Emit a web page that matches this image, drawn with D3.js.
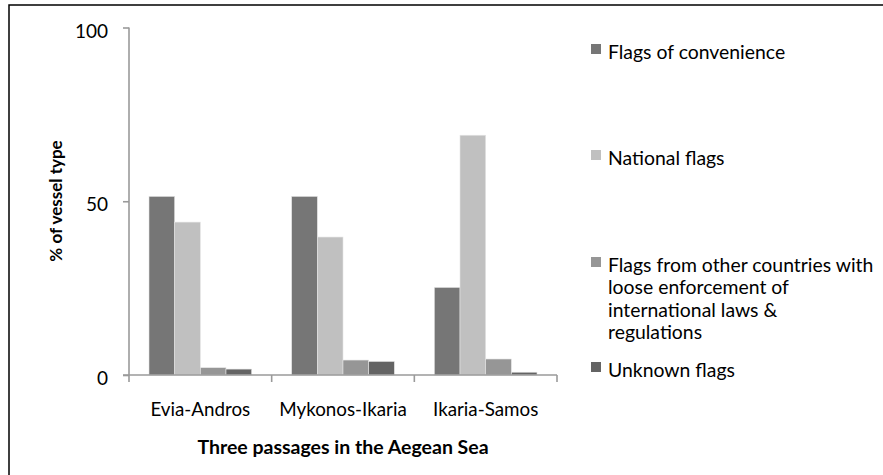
<!DOCTYPE html>
<html>
<head>
<meta charset="utf-8">
<script src="https://cdn.jsdelivr.net/npm/d3@7"></script>
<style>
  body { margin: 0; background: #fff; }
  svg text { font-family: Lato, "Open Sans", sans-serif; fill: #000; }
</style>
</head>
<body>
<div id="chart"></div>
<script>
// passages on the x axis
var passages = ["Evia-Andros", "Mykonos-Ikaria", "Ikaria-Samos"];
// % of vessel type, one array per flag group
var flagsOfConvenience = [51.4, 51.4, 25.2];
var nationalFlags = [44.0, 39.7, 69.0];
var looseEnforcement = [2.1, 4.3, 4.6];
var unknownFlags = [1.7, 3.9, 0.8];
var yTicks = [0, 50, 100];

var seriesNames = ["Flags of convenience", "National flags",
  "Flags from other countries with loose enforcement of international laws & regulations",
  "Unknown flags"];
var seriesColors = ["#767676", "#c0c0c0", "#969696", "#646464"];
var seriesValues = [flagsOfConvenience, nationalFlags, looseEnforcement, unknownFlags];
// legend text broken into lines like the original
var legendLines = [["Flags of convenience"], ["National flags"],
  ["Flags from other countries with", "loose enforcement of", "international laws &", "regulations"],
  ["Unknown flags"]];
var legendY = [51, 157, 264, 369];

const widthSvg = 883;
const heightSvg = 475;

const svg = d3.create("svg")
  .attr("width", widthSvg)
  .attr("height", heightSvg);
d3.select("#chart").append(() => svg.node());

// outer frame (right and bottom run past the picture)
svg.append("rect")
  .attr("x", 9).attr("y", 5)
  .attr("width", 890).attr("height", 490)
  .attr("fill", "none")
  .attr("stroke", "#000")
  .attr("stroke-width", 1.5);

const plotLeft = 129, plotRight = 557, plotTop = 27.5, plotBottom = 375;

var x = d3.scaleBand().domain(passages).range([plotLeft, plotRight]);
var xInner = d3.scaleBand().domain(d3.range(seriesNames.length))
  .range([20, x.bandwidth() - 20]);
var y = d3.scaleLinear().domain([0, 100]).range([plotBottom, plotTop]);

var rows = [];
passages.forEach(function(p, i) {
  seriesValues.forEach(function(vals, s) {
    rows.push({passage: p, series: s, value: vals[i]});
  });
});

svg.selectAll(".bar")
  .data(rows)
  .enter().append("rect")
  .attr("class", "bar")
  .attr("x", function(d) { return x(d.passage) + xInner(d.series); })
  .attr("y", function(d) { return y(d.value); })
  .attr("width", xInner.bandwidth())
  .attr("height", function(d) { return plotBottom - y(d.value); })
  .attr("fill", function(d) { return seriesColors[d.series]; })
  .attr("stroke", "#e4e4e4")
  .attr("stroke-width", 0.6);

// y axis
var yAxis = svg.append("g")
  .attr("transform", "translate(" + plotLeft + ",0)")
  .call(d3.axisLeft(y).tickValues(yTicks).tickSize(6).tickPadding(15));
yAxis.select(".domain").attr("stroke", "#9a9a9a").attr("stroke-width", 1.6)
  .attr("d", "M0," + plotTop + "V" + plotBottom);
yAxis.selectAll(".tick line").attr("stroke", "#9a9a9a").attr("stroke-width", 1.6);
yAxis.selectAll(".tick text").attr("font-size", "19px").attr("dy", "0.5em");

// x axis with ticks at category edges
var xAxis = svg.append("g")
  .attr("transform", "translate(0," + plotBottom + ")");
xAxis.append("line")
  .attr("x1", plotLeft - 6).attr("x2", plotRight)
  .attr("stroke", "#9a9a9a").attr("stroke-width", 1.6);
var edges = passages.map(function(p) { return x(p); }).concat([plotRight]);
xAxis.selectAll(".edge")
  .data(edges)
  .enter().append("line")
  .attr("class", "edge")
  .attr("x1", function(d) { return d; }).attr("x2", function(d) { return d; })
  .attr("y1", 0).attr("y2", 7)
  .attr("stroke", "#9a9a9a").attr("stroke-width", 1.6);
xAxis.selectAll(".label")
  .data(passages)
  .enter().append("text")
  .attr("class", "label")
  .attr("x", function(d) { return x(d) + x.bandwidth() / 2; })
  .attr("y", 33)
  .attr("dominant-baseline", "central")
  .attr("text-anchor", "middle")
  .attr("font-size", "18.8px")
  .text(function(d) { return d; });

// axis titles
svg.append("text")
  .attr("x", (plotLeft + plotRight) / 2)
  .attr("y", 446)
  .attr("text-anchor", "middle")
  .attr("dominant-baseline", "central")
  .attr("font-size", "19.5px")
  .attr("font-weight", "bold")
  .text("Three passages in the Aegean Sea");

svg.append("text")
  .attr("transform", "translate(55,201) rotate(-90)")
  .attr("text-anchor", "middle")
  .attr("dominant-baseline", "central")
  .attr("font-size", "17px")
  .attr("font-weight", "bold")
  .text("% of vessel type");

// legend
var legend = svg.selectAll(".legend")
  .data(seriesNames)
  .enter().append("g")
  .attr("class", "legend")
  .attr("transform", function(d, i) { return "translate(591," + legendY[i] + ")"; });

legend.append("rect")
  .attr("x", 0).attr("y", -7)
  .attr("width", 10).attr("height", 10)
  .attr("fill", function(d, i) { return seriesColors[i]; });

legend.append("text")
  .attr("x", 17)
  .attr("font-size", "19.4px")
  .each(function(d, i) {
    var t = d3.select(this);
    legendLines[i].forEach(function(line, j) {
      t.append("tspan")
        .attr("x", 17)
        .attr("y", j * 22.5)
        .attr("dominant-baseline", "central")
        .text(line);
    });
  });
</script>
</body>
</html>
